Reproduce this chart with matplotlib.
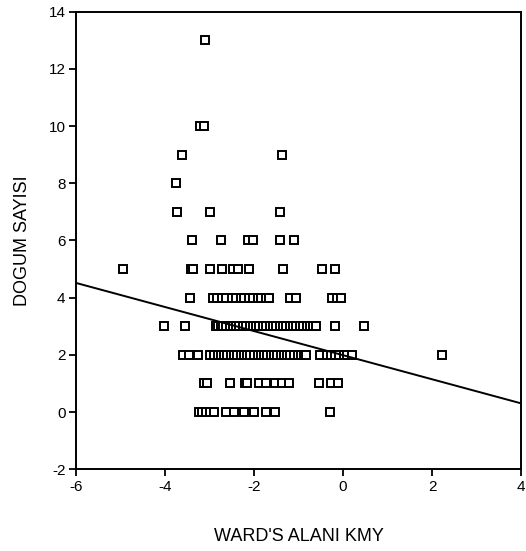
import numpy as np
import matplotlib
matplotlib.use("Agg")
from matplotlib import pyplot as plt

plt.rcParams['font.family'] = ['Liberation Sans', 'DejaVu Sans']
plt.rcParams['axes.unicode_minus'] = False

# WARD'S ALANI KMY values, grouped by DOGUM SAYISI (y) row
rows = {
    13: [-3.10],
    10: [-3.22, -3.13],
    9: [-3.61, -1.37],
    8: [-3.76],
    7: [-3.72, -3.00, -1.41],
    6: [-3.40, -2.74, -2.14, -2.02, -1.41, -1.11],
    5: [-4.95, -3.42, -3.38, -3.00, -2.72, -2.48, -2.37, -2.12, -1.34, -0.47, -0.19],
    4: [-3.43, -2.92, -2.84, -2.72, -2.62, -2.50, -2.40, -2.30, -2.22, -2.12, -2.02,
        -1.92, -1.84, -1.74, -1.66, -1.20, -1.05, -0.24, -0.14, -0.05],
    3: [-4.03, -3.56, -2.85, -2.80, -2.75, -2.70, -2.62, -2.55, -2.48, -2.40, -2.33,
        -2.25, -2.18, -2.10, -2.02, -1.95, -1.88, -1.80, -1.72, -1.65, -1.57, -1.50,
        -1.42, -1.35, -1.27, -1.20, -1.12, -1.05, -0.97, -0.90, -0.82, -0.75, -0.67,
        -0.60, -0.19, 0.48],
    2: [-3.60, -3.45, -3.26, -3.00, -2.89, -2.82, -2.75, -2.68, -2.60, -2.52, -2.45,
        -2.38, -2.30, -2.22, -2.15, -2.08, -2.00, -1.92, -1.85, -1.78, -1.70, -1.62,
        -1.55, -1.48, -1.40, -1.32, -1.25, -1.18, -1.10, -1.02, -0.95, -0.87, -0.83,
        -0.51, -0.36, -0.28, -0.18, -0.08, 0.02, 0.10, 0.20, 2.23],
    1: [-3.12, -3.06, -2.55, -2.20, -2.16, -1.88, -1.72, -1.52, -1.37, -1.22,
        -0.53, -0.27, -0.12],
    0: [-3.24, -3.16, -3.08, -2.98, -2.90, -2.64, -2.46, -2.23, -1.99, -1.73, -1.52,
        -0.30],
}

# fitted line: y = intercept + slope * x
intercept = 1.99
slope = -0.421

x_ticks = [-6, -4, -2, 0, 2, 4]
y_ticks = [-2, 0, 2, 4, 6, 8, 10, 12, 14]

xs = []
ys = []
for yv, xv in rows.items():
    xs += xv
    ys += [yv] * len(xv)

fig = plt.figure(figsize=(5.26, 5.51), dpi=100)
ax = fig.add_axes([0.1445, 0.1483, 0.846, 0.8305])

ax.plot(xs, ys, linestyle='none', marker='s', markersize=5.4,
        markerfacecolor='white', markeredgecolor='black', markeredgewidth=1.4)

lx = np.array([-6, 4])
ax.plot(lx, intercept + slope * lx, color='black', linewidth=1.4)

ax.set_xlim(-6, 4)
ax.set_ylim(-2, 14)
ax.set_xticks(x_ticks)
ax.set_yticks(y_ticks)
ax.tick_params(direction='out', length=5, width=1.3, pad=2.5, labelsize=11, colors='black')
for s in ax.spines.values():
    s.set_linewidth(1.4)

ax.set_xlabel("WARD'S ALANI KMY", fontsize=13, labelpad=25)
ax.set_ylabel("DOGUM SAYISI", fontsize=13, labelpad=13)

fig.savefig('out.png', dpi=100)
